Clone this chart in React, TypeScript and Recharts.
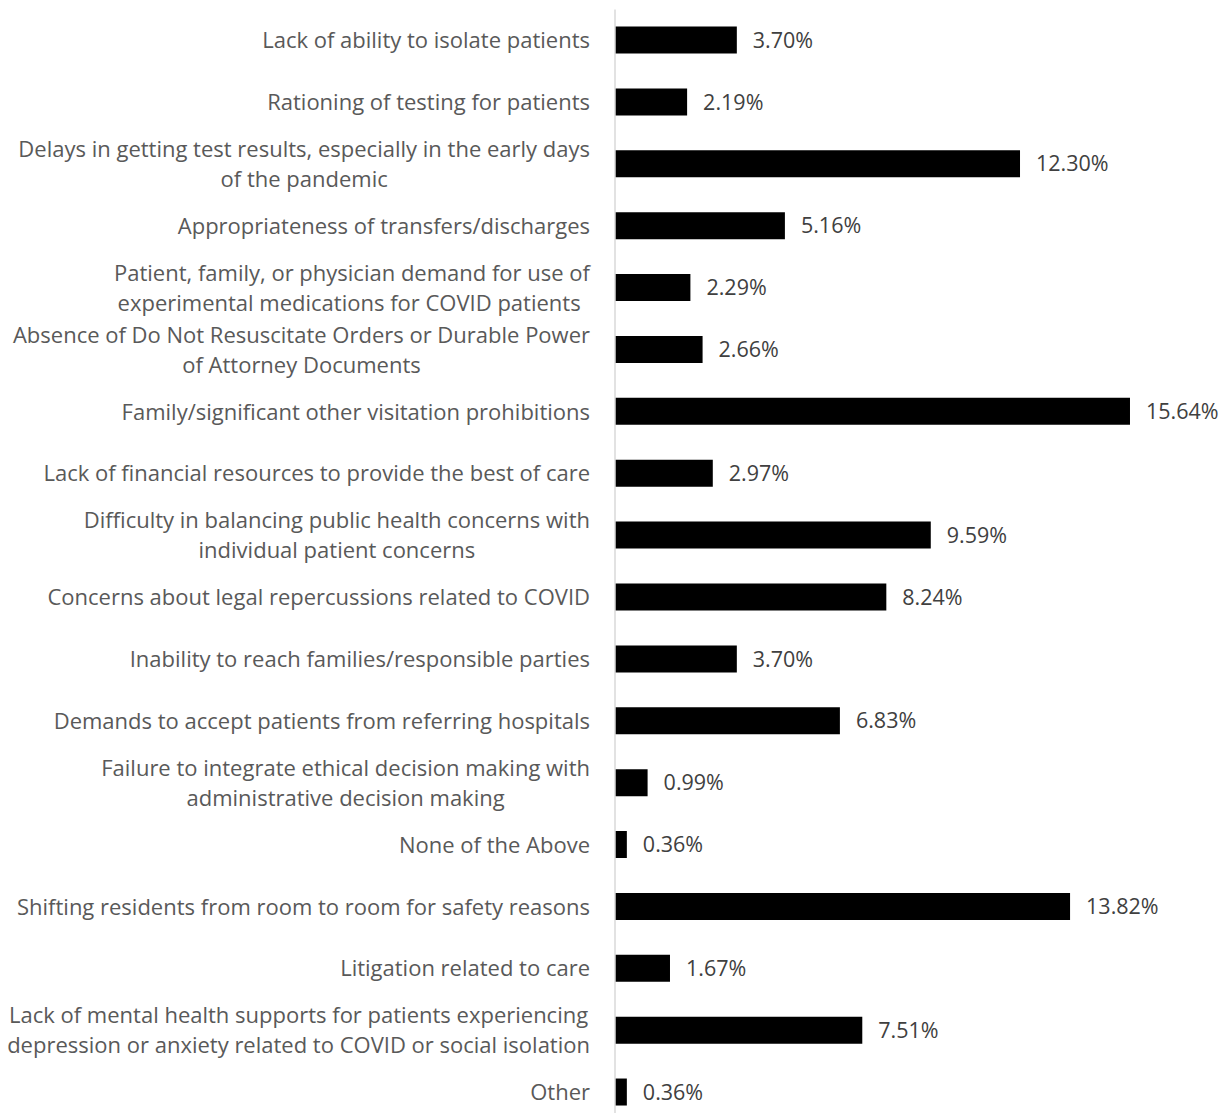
import React from 'react';
import { BarChart, Bar, XAxis, YAxis, LabelList } from 'recharts';

const categories: string[] = [
  'Lack of ability to isolate patients',
  'Rationing of testing for patients',
  'Delays in getting test results, especially in the early days\nof the pandemic',
  'Appropriateness of transfers/discharges',
  'Patient, family, or physician demand for use of\nexperimental medications for COVID patients ',
  'Absence of Do Not Resuscitate Orders or Durable Power\nof Attorney Documents',
  'Family/significant other visitation prohibitions',
  'Lack of financial resources to provide the best of care',
  'Difficulty in balancing public health concerns with\nindividual patient concerns',
  'Concerns about legal repercussions related to COVID',
  'Inability to reach families/responsible parties',
  'Demands to accept patients from referring hospitals',
  'Failure to integrate ethical decision making with\nadministrative decision making',
  'None of the Above',
  'Shifting residents from room to room for safety reasons',
  'Litigation related to care',
  'Lack of mental health supports for patients experiencing\ndepression or anxiety related to COVID or social isolation',
  'Other',
];

const values: number[] = [
  3.7, 2.19, 12.3, 5.16, 2.29, 2.66, 15.64, 2.97, 9.59, 8.24, 3.7, 6.83, 0.99, 0.36, 13.82, 1.67, 7.51, 0.36,
];

const data = categories.map((name, i) => ({ name, value: values[i] }));

const FONT = '"Open Sans", sans-serif';
const CAT_SIZE = 22;
const LINE_H = 30;

let ctx: CanvasRenderingContext2D | null = null;
function measure(s: string): number {
  if (!ctx) {
    const c = document.createElement('canvas');
    ctx = c.getContext('2d');
  }
  if (!ctx) return s.length * CAT_SIZE * 0.5;
  ctx.font = `${CAT_SIZE}px "Open Sans"`;
  return ctx.measureText(s).width;
}

function CategoryTick(props: any) {
  const { x, y, payload } = props;
  const lines: string[] = String(payload.value).split('\n');
  const right = x - 25;
  const startY = y - ((lines.length - 1) * LINE_H) / 2;
  if (lines.length === 1) {
    return (
      <text x={right} y={y} dy="0.35em" textAnchor="end" fill="#595959" fontSize={CAT_SIZE} fontFamily={FONT}>
        {lines[0]}
      </text>
    );
  }
  const blockW = Math.max(...lines.map(measure));
  const cx = right - blockW / 2;
  return (
    <text textAnchor="middle" fill="#595959" fontSize={CAT_SIZE} fontFamily={FONT} style={{ whiteSpace: 'pre' }}>
      {lines.map((l, i) => (
        <tspan key={i} x={cx} y={startY + i * LINE_H} dy="0.35em">
          {l}
        </tspan>
      ))}
    </text>
  );
}

export default function App() {
  return (
    <div style={{ position: 'absolute', left: 0, top: 0 }}>
      <BarChart
        width={1231}
        height={1130}
        data={data}
        layout="vertical"
        margin={{ top: 9.6, right: 23.3, bottom: 6.6, left: 0 }}
      >
        <XAxis type="number" domain={[0, 18]} hide />
        <YAxis
          type="category"
          dataKey="name"
          width={615}
          interval={0}
          tickLine={false}
          tickSize={0}
          tickMargin={0}
          axisLine={{ stroke: '#d9d9d9', strokeWidth: 1.5 }}
          tick={<CategoryTick />}
        />
        <Bar dataKey="value" fill="#000000" barSize={27} isAnimationActive={false}>
          <LabelList
            dataKey="value"
            position="right"
            offset={16}
            formatter={(v: any) => `${Number(v).toFixed(2)}%`}
            fill="#404040"
            fontSize={21.5}
            fontFamily={FONT}
          />
        </Bar>
      </BarChart>
    </div>
  );
}
